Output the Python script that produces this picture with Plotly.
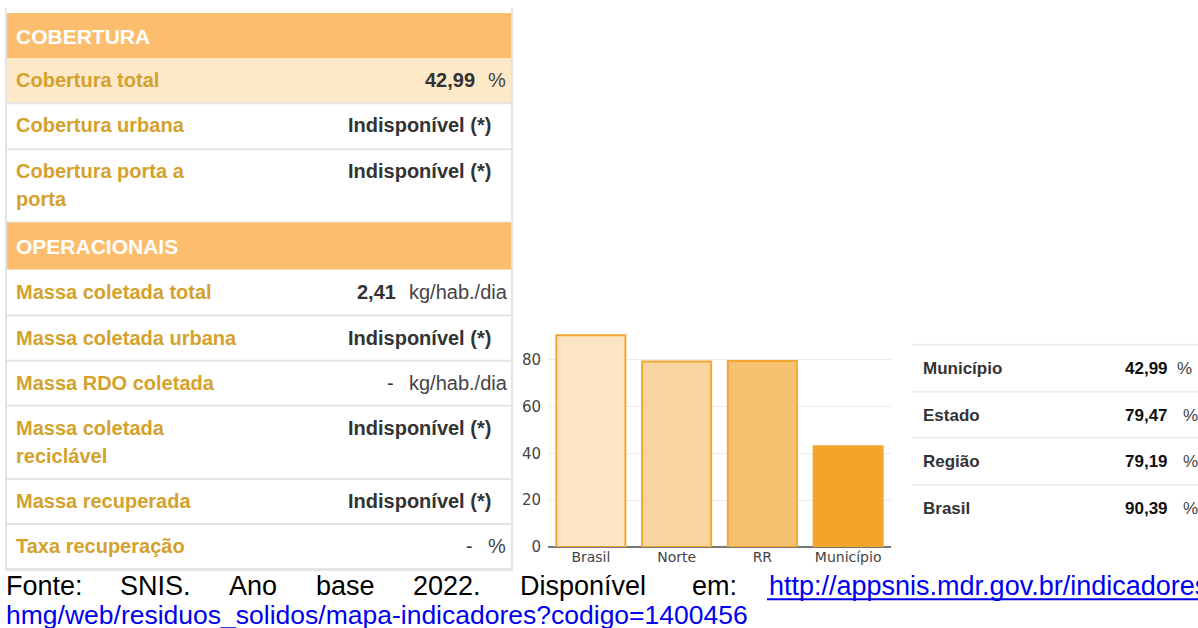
import plotly.graph_objects as go

W, H = 1198, 640
H_VIEW = H * 618 / 628  # rendered page comes out ~1.6% shorter; map pixel rows against this

# bar chart data
bar_categories = ["Brasil", "Norte", "RR", "Município"]
bar_values = [90.39, 79.19, 79.47, 42.99]
y_ticks = [0, 20, 40, 60, 80]

# left table
cob_title = "COBERTURA"
cob_labels = ["Cobertura total", "Cobertura urbana", "Cobertura porta a\nporta"]
cob_values = ["42,99", "Indisponível (*)", "Indisponível (*)"]
cob_units = ["%", "", ""]

op_title = "OPERACIONAIS"
op_labels = ["Massa coletada total", "Massa coletada urbana", "Massa RDO coletada",
             "Massa coletada\nreciclável", "Massa recuperada", "Taxa recuperação"]
op_values = ["2,41", "Indisponível (*)", "-", "Indisponível (*)", "Indisponível (*)", "-"]
op_units = ["kg/hab./dia", "", "kg/hab./dia", "", "", "%"]

# right table
comp_labels = ["Município", "Estado", "Região", "Brasil"]
comp_values = ["42,99", "79,47", "79,19", "90,39"]

source_words = ["Fonte:", "SNIS.", "Ano", "base", "2022.", "Disponível", "em:"]
source_link_1 = "http://appsnis.mdr.gov.br/indicadores-"
source_link_2 = "hmg/web/residuos_solidos/mapa-indicadores?codigo=1400456"

TABLE_FONT = "Arial, Liberation Sans, sans-serif"
CHART_FONT = "Verdana, DejaVu Sans, sans-serif"
GOLD = "#D4A22C"
DARK = "#333333"
HEAD = "#FDBD6E"
LINE = "#E4E4E4"


def px(x):
    return x / W


def py(y):
    return 1 - y / H_VIEW


shapes = []
annotations = []


def rect(x0, y0, x1, y1, fill):
    shapes.append(dict(type="rect", xref="paper", yref="paper", x0=px(x0), x1=px(x1),
                       y0=py(y1), y1=py(y0), fillcolor=fill, line=dict(width=0), layer="below"))


def hline(x0, x1, y, color=LINE, width=2):
    shapes.append(dict(type="line", xref="paper", yref="paper", x0=px(x0), x1=px(x1),
                       y0=py(y), y1=py(y), line=dict(color=color, width=width), layer="below"))


def vline(x, y0, y1, color=LINE, width=2):
    shapes.append(dict(type="line", xref="paper", yref="paper", x0=px(x), x1=px(x),
                       y0=py(y0), y1=py(y1), line=dict(color=color, width=width), layer="below"))


def text(x, y, s, size=20, color=DARK, bold=False, anchor="left", family=TABLE_FONT):
    if bold:
        s = "<b>" + s + "</b>"
    annotations.append(dict(xref="paper", yref="paper", x=px(x), y=py(y), text=s,
                            showarrow=False, xanchor=anchor, yanchor="middle",
                            font=dict(family=family, size=size, color=color)))


# ---- left table ----
vline(6, 8, 570)
vline(512, 8, 570)
hline(6, 512, 569)

row_tops = [58, 103, 149]
row_bots = [103, 149, 222]
rect(7, 13, 511, 58, HEAD)
text(14, 36, cob_title, size=21, color="white", bold=True)
rect(7, 58, 511, 103, "#FDE8C8")
for i, lab in enumerate(cob_labels):
    top = row_tops[i]
    hline(7, 511, row_bots[i])
    for j, part in enumerate(lab.split("\n")):
        text(14, top + 22 + 28 * j, part, color=GOLD, bold=True)
    if cob_units[i]:
        text(477, top + 22, cob_values[i], bold=True, anchor="right")
        text(486, top + 22, cob_units[i], color="#444444")
    else:
        text(493, top + 22, cob_values[i], bold=True, anchor="right")

rect(7, 222, 511, 269, HEAD)
text(14, 246, op_title, size=21, color="white", bold=True)
op_tops = [269, 315, 360, 405, 478, 523]
op_bots = [315, 360, 405, 478, 523, 568]
for i, lab in enumerate(op_labels):
    top = op_tops[i]
    hline(7, 511, op_bots[i])
    for j, part in enumerate(lab.split("\n")):
        text(14, top + 22 + 28 * j, part, color=GOLD, bold=True)
    if op_units[i]:
        unit_x = 407 if op_units[i].startswith("kg") else 486
        val_x = 398 if op_values[i] != "-" else 396
        if op_units[i] == "%":
            val_x = 475
        text(val_x, top + 22, op_values[i], bold=op_values[i] != "-", anchor="right")
        text(unit_x, top + 22, op_units[i], color="#444444")
    else:
        text(493, top + 22, op_values[i], bold=True, anchor="right")

# ---- right table ----
comp_rows = [344, 391, 437, 484]
for i, lab in enumerate(comp_labels):
    y = comp_rows[i]
    hline(912, 1198, y, color="#EEEEEE", width=2)
    text(921, y + 24, lab, size=17, color="#333333", bold=True)
    text(1170, y + 24, comp_values[i], size=17, color="#111111", bold=True, anchor="right")
    text(1175 if i == 0 else 1181, y + 24, "%", size=17, color="#444444")

# ---- source text ----
word_x = [4, 118, 227, 314, 411, 518, 690]
for wx, word in zip(word_x, source_words):
    text(wx, 585, word, size=27, color="black", family="Liberation Sans, Arial")
text(767, 585, source_link_1, size=27, color="#0000EE", family="Liberation Sans, Arial")
hline(767, 1198, 598, color="#0000EE", width=2)
text(4, 614, source_link_2, size=26.5, color="#0000EE", family="Liberation Sans, Arial")

# ---- bar chart ----
fig = go.Figure()
fig.add_trace(go.Bar(
    x=bar_categories, y=bar_values,
    marker=dict(color=["#FCE5C4", "#F9D6A0", "#F6C272", "#F2A42B"],
                line=dict(color="#F3A532", width=2)),
    hoverinfo="x+y",
))

y_top = (546 - 330) / ((546 - 359) / 80)
fig.update_layout(
    width=W, height=H,
    margin=dict(l=0, r=0, t=0, b=0),
    paper_bgcolor="white", plot_bgcolor="white",
    showlegend=False,
    bargap=0.195,
    shapes=shapes,
    annotations=annotations,
    xaxis=dict(domain=[px(548), px(891)], showgrid=False, ticks="",
               tickfont=dict(family=CHART_FONT, size=14, color="#444444")),
    yaxis=dict(domain=[py(546), py(330)], range=[0, y_top], tickvals=y_ticks,
               gridcolor="#EBEBEB", gridwidth=1,
               zeroline=True, zerolinecolor="#777777", zerolinewidth=2,
               ticks="outside", ticklen=3, tickcolor="#FFFFFF",
               tickfont=dict(family=CHART_FONT, size=15, color="#444444")),
)

# page body has an 8px default margin; drop it so the figure sits at the corner
fig.write_html("out.html",
               config={"displayModeBar": False, "responsive": False},
               post_script="document.body.style.margin='0';document.body.style.overflow='hidden';")
